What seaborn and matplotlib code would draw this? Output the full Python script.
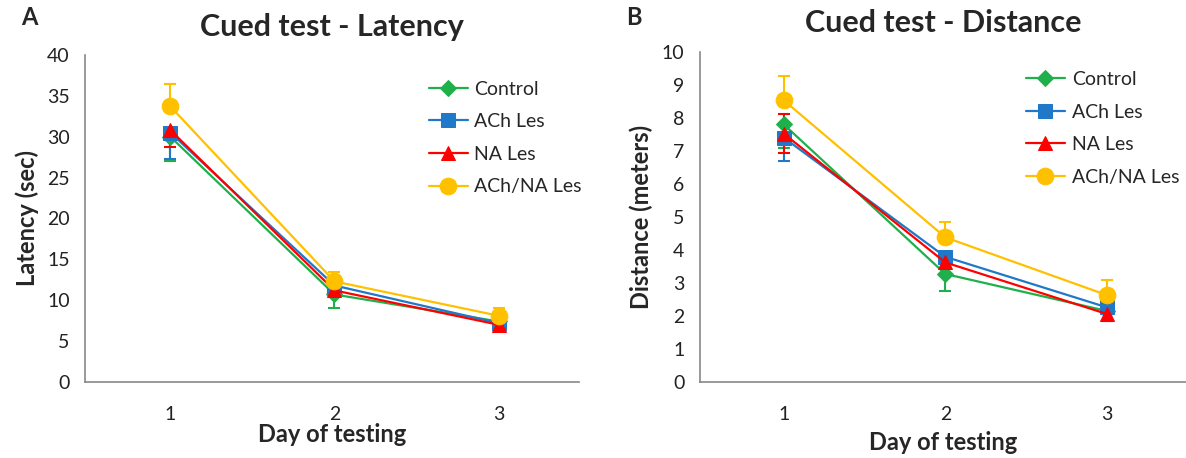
import numpy as np
import pandas as pd
import matplotlib
matplotlib.use("Agg")
import matplotlib.pyplot as plt
import seaborn as sns

# Data
days = [1, 2, 3]
groups = ["Control", "ACh Les", "NA Les", "ACh/NA Les"]

latency_control = [30.0, 10.7, 7.4]
latency_ach = [30.5, 11.8, 7.2]
latency_na = [30.8, 11.2, 7.0]
latency_achna = [33.7, 12.3, 8.1]

latency_err_down = {
    "Control": [3.0, 1.6, 0.0],
    "ACh Les": [3.2, 0.0, 0.6],
    "NA Les": [2.1, 0.0, 0.0],
    "ACh/NA Les": [0.0, 0.0, 0.0],
}
latency_err_up = {
    "Control": [0.0, 0.0, 0.0],
    "ACh Les": [0.0, 0.0, 0.0],
    "NA Les": [0.0, 0.0, 0.0],
    "ACh/NA Les": [2.8, 1.2, 1.0],
}

distance_control = [7.8, 3.27, 2.15]
distance_ach = [7.4, 3.79, 2.26]
distance_na = [7.52, 3.62, 2.06]
distance_achna = [8.53, 4.38, 2.63]

distance_err_down = {
    "Control": [0.7, 0.5, 0.0],
    "ACh Les": [0.7, 0.0, 0.0],
    "NA Les": [0.6, 0.0, 0.22],
    "ACh/NA Les": [0.0, 0.0, 0.0],
}
distance_err_up = {
    "Control": [0.0, 0.0, 0.0],
    "ACh Les": [0.0, 0.0, 0.0],
    "NA Les": [0.6, 0.0, 0.0],
    "ACh/NA Les": [0.75, 0.45, 0.46],
}

colors = {"Control": "#1fb04b", "ACh Les": "#1f78c8",
          "NA Les": "#ff0000", "ACh/NA Les": "#ffc000"}
markers = {"Control": "D", "ACh Les": "s", "NA Les": "^", "ACh/NA Les": "o"}
msizes = {"Control": 8, "ACh Les": 10, "NA Les": 10, "ACh/NA Les": 12}

sns.set_theme(style="white")
plt.rcParams["font.family"] = ["Lato", "DejaVu Sans"]


def long_form(series):
    rows = []
    for g, vals in zip(groups, series):
        for d, v in zip(days, vals):
            rows.append({"day": d, "value": v, "group": g})
    return pd.DataFrame(rows)


def draw_panel(ax, df, err_down, err_up, ylim, yticks, ylabel, title,
               legend_anchor, xlabelpad):
    for g in groups:
        sub = df[df["group"] == g]
        ax.errorbar(sub["day"], sub["value"],
                    yerr=[err_down[g], err_up[g]], fmt="none",
                    ecolor=colors[g], elinewidth=1.5, capsize=4.5,
                    capthick=1.5, zorder=2)
        sns.lineplot(data=sub, x="day", y="value", color=colors[g],
                     marker=markers[g], markersize=msizes[g],
                     markeredgecolor=colors[g], linewidth=1.6,
                     label=g, ax=ax, errorbar=None, zorder=3)

    ax.set_xlim(0.48, 3.49)
    ax.set_ylim(*ylim)
    ax.set_yticks(yticks)
    ax.set_xticks(days)
    ax.set_xticklabels([str(d) for d in days])
    ax.tick_params(axis="both", labelsize=14, colors="#222222",
                   length=5, width=1, direction="out", pad=6)
    ax.tick_params(axis="x", pad=12)
    for s in ["top", "right"]:
        ax.spines[s].set_visible(False)
    for s in ["left", "bottom"]:
        ax.spines[s].set_color("#888888")
        ax.spines[s].set_linewidth(1.2)
    ax.tick_params(axis="both", color="#888888")
    ax.set_xlabel("Day of testing", fontsize=17, fontweight="bold",
                  labelpad=xlabelpad)
    ax.set_ylabel(ylabel, fontsize=17, fontweight="bold", labelpad=6)
    ax.set_title(title, fontsize=22, fontweight="bold", pad=14)
    ax.legend(loc="upper left", bbox_to_anchor=legend_anchor,
              frameon=False, fontsize=14, handlelength=2.0,
              labelspacing=0.8, handletextpad=0.35, borderaxespad=0)


fig = plt.figure(figsize=(11.86, 4.58), dpi=100)
ax_a = fig.add_axes([0.0717, 0.166, 0.4165, 0.714])
ax_b = fig.add_axes([0.590, 0.166, 0.41, 0.721])

df_lat = long_form([latency_control, latency_ach, latency_na, latency_achna])
df_dist = long_form([distance_control, distance_ach, distance_na, distance_achna])

draw_panel(ax_a, df_lat, latency_err_down, latency_err_up, (0, 40),
           np.arange(0, 41, 5), "Latency (sec)", "Cued test - Latency",
           (0.68, 0.945), 0)
draw_panel(ax_b, df_dist, distance_err_down, distance_err_up, (0, 10),
           np.arange(0, 11, 1), "Distance (meters)", "Cued test - Distance",
           (0.655, 0.965), 6)

fig.text(0.018, 0.945, "A", fontsize=17, fontweight="bold")
fig.text(0.528, 0.945, "B", fontsize=17, fontweight="bold")

fig.savefig("out.png", dpi=100)
